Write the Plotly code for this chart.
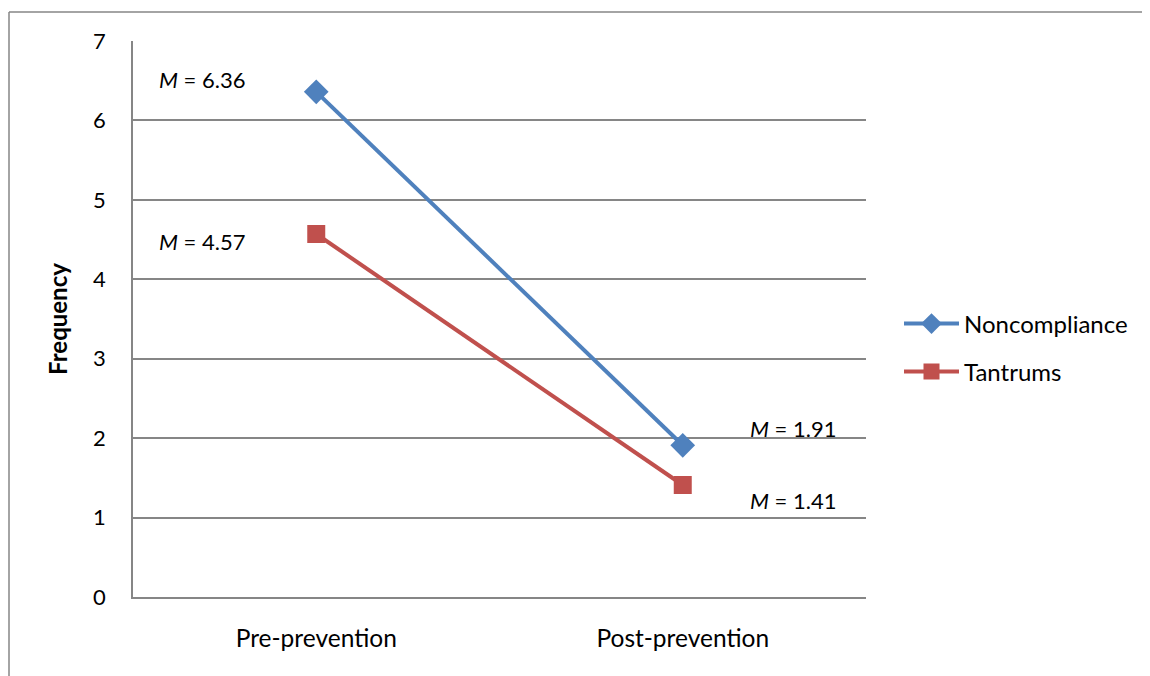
import plotly.graph_objects as go

categories = ["Pre-prevention", "Post-prevention"]
noncompliance = [6.36, 1.91]
tantrums = [4.57, 1.41]
y_ticks = [0, 1, 2, 3, 4, 5, 6, 7]
labels_nc = ["<i>M</i> = 6.36", "<i>M</i> = 1.91"]
labels_t = ["<i>M</i> = 4.57", "<i>M</i> = 1.41"]

BLUE = "#4F81BD"
RED = "#C0504D"
GRID = "#868686"
FONT = "Lato, 'Open Sans', sans-serif"

# page has an 8px body margin; figure is sized to fit the 1150x676 window
W, H = 1142, 668
L, T = 125, 33
PW, PH = 733, 556

fig = go.Figure()
fig.add_trace(go.Scatter(
    x=categories, y=noncompliance, name="Noncompliance", mode="lines+markers",
    line=dict(color=BLUE, width=4), marker=dict(symbol="diamond", size=19, color=BLUE),
    legend="legend"))
fig.add_trace(go.Scatter(
    x=categories, y=tantrums, name="Tantrums", mode="lines+markers",
    line=dict(color=RED, width=4), marker=dict(symbol="square", size=18, color=RED),
    legend="legend2"))

ann = []
ann.append(dict(x=0.033, y=6.51, xref="paper", yref="y", text=labels_nc[0]))
ann.append(dict(x=0.033, y=4.48, xref="paper", yref="y", text=labels_t[0]))
ann.append(dict(x=0.839, y=2.12, xref="paper", yref="y", text=labels_nc[1]))
ann.append(dict(x=0.839, y=1.22, xref="paper", yref="y", text=labels_t[1]))
for a in ann:
    a.update(showarrow=False, xanchor="left", yanchor="middle",
             font=dict(family=FONT, size=22, color="#000"))

fig.update_layout(
    width=W, height=H,
    margin=dict(l=L, r=W - L - PW, t=T, b=H - T - PH),
    paper_bgcolor="white", plot_bgcolor="white",
    font=dict(family=FONT, color="#000"),
    annotations=ann,
    xaxis=dict(type="category", range=[-0.5, 1.5], showgrid=False,
               showline=True, linecolor=GRID, linewidth=1.5,
               ticks="", tickfont=dict(size=24.5), ticklabelstandoff=19),
    yaxis=dict(range=[0, 7], tickvals=y_ticks, showgrid=True, gridcolor=GRID,
               gridwidth=1.5, showline=True, linecolor=GRID, linewidth=1.5,
               zeroline=False, ticks="", tickfont=dict(size=22), ticklabelstandoff=21,
               title=dict(text="<b>Frequency</b>", font=dict(size=24), standoff=19)),
    legend=dict(x=(899 - 133) / PW, y=(597 - 324) / PH, xanchor="left", yanchor="middle",
                font=dict(size=24), bgcolor="rgba(0,0,0,0)", itemwidth=55),
    legend2=dict(x=(899 - 133) / PW, y=(597 - 372) / PH, xanchor="left", yanchor="middle",
                 font=dict(size=24), bgcolor="rgba(0,0,0,0)", itemwidth=55),
    showlegend=True,
)

# outer chart frame (left and top edges)
x0 = (9 - 133) / PW
y1 = (597 - 12) / PH
x1 = (1160 - 133) / PW
yb = (597 - 690) / PH
fig.add_shape(type="line", xref="paper", yref="paper", x0=x0, x1=x0, y0=yb, y1=y1,
              line=dict(color=GRID, width=1.5))
fig.add_shape(type="line", xref="paper", yref="paper", x0=x0, x1=x1, y0=y1, y1=y1,
              line=dict(color=GRID, width=1.5))

fig.write_html("out.html")
